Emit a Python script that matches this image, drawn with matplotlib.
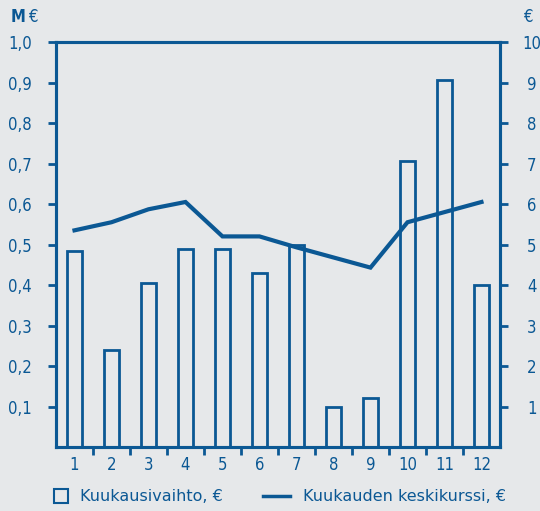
import matplotlib.pyplot as plt
from matplotlib import font_manager

months = [1, 2, 3, 4, 5, 6, 7, 8, 9, 10, 11, 12]
turnover = [0.485, 0.24, 0.405, 0.49, 0.49, 0.43, 0.50, 0.10, 0.12, 0.705, 0.905, 0.40]
avg_price = [5.35, 5.55, 5.87, 6.05, 5.2, 5.2, 4.93, 4.68, 4.43, 5.55, 5.8, 6.05]
left_ticks = [0.1, 0.2, 0.3, 0.4, 0.5, 0.6, 0.7, 0.8, 0.9, 1.0]
right_ticks = [1, 2, 3, 4, 5, 6, 7, 8, 9, 10]

blue = "#0b5894"
bg = "#e6e8ea"

plt.rcParams["font.family"] = ["DejaVu Sans"]
# condensed face for the tick numbers
cond = font_manager.FontProperties(family="DejaVu Sans", stretch="condensed", size=12)

fig = plt.figure(figsize=(5.4, 5.11), dpi=100, facecolor=bg)
ax = fig.add_axes([0.1037, 0.1252, 0.8222, 0.7926])
ax.set_facecolor(bg)

ax.bar(months, turnover, width=0.38, facecolor="none", edgecolor=blue, lw=2)
ax.set_xlim(0.5, 12.5)
ax.set_ylim(0, 1.0)

for s in ax.spines.values():
    s.set_color(blue)
    s.set_linewidth(2.2)

ax.set_yticks(left_ticks)
ax.set_yticklabels([f"{v:.1f}".replace(".", ",") for v in left_ticks])
ax.tick_params(axis="y", direction="out", length=6, width=2, color=blue,
               labelcolor=blue, pad=11.5)
for lab in ax.get_yticklabels():
    lab.set_fontproperties(cond)
ax.set_xticks([m + 0.5 for m in months[:-1]])
ax.set_xticklabels([])
ax.tick_params(axis="x", direction="out", length=6, width=2, color=blue)
for m in months:
    ax.text(m, -0.022, str(m), ha="center", va="top", color=blue, fontproperties=cond,
            transform=ax.get_xaxis_transform())

ax2 = ax.twinx()
ax2.plot(months, avg_price, color=blue, lw=3, solid_joinstyle="miter")
ax2.set_ylim(0, 10)
ax2.set_yticks(right_ticks)
ax2.tick_params(axis="y", direction="out", length=6, width=2, color=blue,
                labelcolor=blue, pad=17)
for lab in ax2.get_yticklabels():
    lab.set_fontproperties(cond)
    lab.set_horizontalalignment("center")
for s in ax2.spines.values():
    s.set_color(blue)
    s.set_linewidth(2.2)

fig.text(0.02, 0.966, "M", color=blue, fontproperties=cond, fontweight="bold", va="center")
fig.text(0.052, 0.966, "€", color=blue, fontproperties=cond, va="center")
fig.text(0.978, 0.966, "€", color=blue, fontproperties=cond, va="center", ha="center")

# legend
fig.patches.append(plt.Rectangle((0.1, 0.015), 0.026, 0.028, transform=fig.transFigure,
                                 facecolor="none", edgecolor=blue, lw=1.5))
fig.text(0.148, 0.029, "Kuukausivaihto, €", color=blue, fontsize=11.5, va="center")
fig.lines.append(plt.Line2D([0.487, 0.537], [0.029, 0.029], transform=fig.transFigure,
                            color=blue, lw=2.5))
fig.text(0.561, 0.029, "Kuukauden keskikurssi, €", color=blue, fontsize=11.5, va="center")

fig.savefig("out.png", dpi=100, facecolor=bg)
